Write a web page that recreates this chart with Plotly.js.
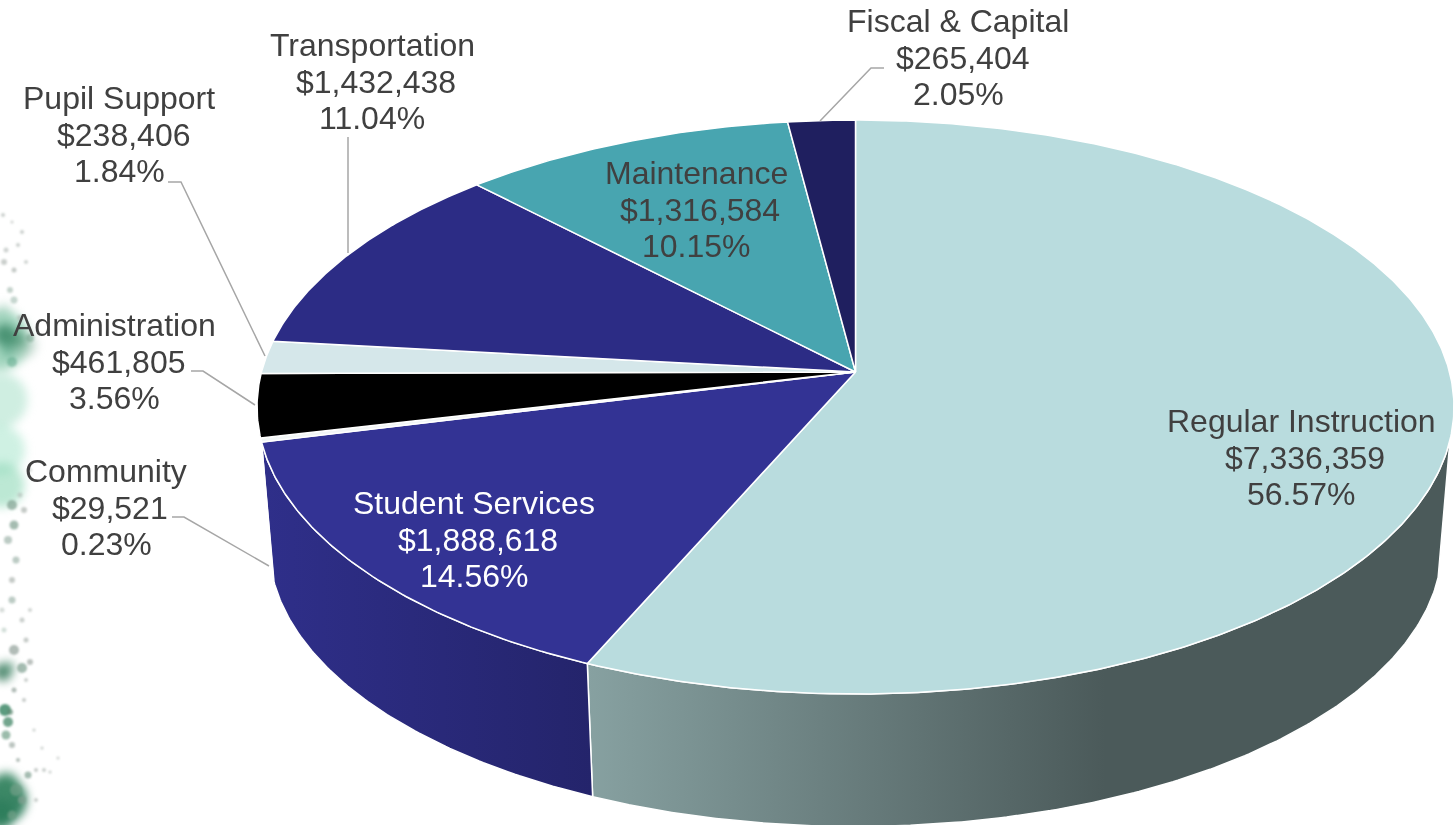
<!DOCTYPE html>
<html>
<head>
<meta charset="utf-8">
<script src="https://cdn.plot.ly/plotly-3.0.1.min.js"></script>
<style>html,body{margin:0;padding:0;background:#fff;overflow:hidden}#chart{width:1455px;height:825px}</style>
</head>
<body>
<div id="chart"></div>
<script>
// ---- data ----
const categories = ['Regular Instruction','Student Services','Community','Administration','Pupil Support','Transportation','Maintenance','Fiscal & Capital'];
const amounts = [7336359,1888618,29521,461805,238406,1432438,1316584,265404];
const topColors = ['#b9dcde','#333394','#f2f6f7','#000000','#d5e7ea','#2c2c85','#48a5b0','#1f1f5f'];
const sideScales = {
  'Regular Instruction': [[0,'#87a1a1'],[0.6,'#4b5a5a'],[1,'#4b5a5a']],
  'Student Services': [[0,'#2f2f8a'],[1,'#24246b']],
  'Community': [[0,'#d8dee0'],[1,'#d8dee0']]
};
const textColors = ['#404040','#ffffff','#404040','#404040','#404040','#404040','#404040','#404040'];
const labelX = [1301,474,106,114,119,372,696,958];
const labelY = [421,503,471,325,98,45,173,21];
const linePitch = 36.7;
const amountLineShift = 4;
const leaders = [
  'M884,68 L871,68 L820,121',
  'M348,137 L348,253',
  'M168,182 L181,182 L265,356',
  'M191,371 L203,371 L255,405',
  'M172,517 L184,517 L269,566'
];
// decorative speckled edge of the slide background
const textureX = [0,0,0,2,24,5,18,8,30,12,4,14,10,20,4,14,6,18,26,3,12,22,12,14,24,8,20,30,16,12,2,4,12,22,30,14,26,5,8,6,12,10,24,3,8,22,30,14,26,18,36,44,50,58,34,42,4,0,6,16,28,22,12,36];
const textureY = [340,400,450,485,345,335,340,350,338,362,310,300,290,318,262,270,250,245,262,215,222,232,505,525,510,540,495,470,560,580,610,630,600,620,610,650,640,710,722,735,745,712,700,672,668,668,662,690,680,760,770,770,772,758,730,748,800,815,785,790,775,800,815,800];
const textureS = [60,55,50,45,26,22,16,13,8,10,14,7,6,6,6,5,5,4,4,4,3,4,10,9,6,8,5,4,7,6,5,5,7,5,4,10,5,12,10,9,6,6,4,18,13,10,6,5,4,4,4,4,3,3,3,3,46,30,26,12,7,8,9,4];
const textureC = ['#7cc4a4','#a8e0c8','#a8e6cc','#8fd8b8','#9fbfb0','#2e7d5c','#3f8a68','#4f9f7f','#70a088','#5aa588','#8fc4ac','#90b0a2','#a0b8ac','#a8b8b0','#a8b0ac','#a0a8a4','#b0b8b4','#a8b0ac','#b0b8b4','#a8b0ac','#b0b8b4','#a8b0ac','#7f9f90','#7f9f90','#a0a8a4','#90a89c','#a8b0ac','#b0b8b4','#90a89c','#a0a8a4','#b0bcb6','#a8c0b4','#90a89c','#a8b0ac','#b0b8b4','#909f98','#a0a8a4','#3f8a68','#4f8f70','#70a088','#909f98','#5f8a74','#a0a8a4','#2f7355','#5f9a80','#7f9f90','#a0a8a4','#909f98','#a8b0ac','#909f98','#a0a8a4','#a8b0ac','#a8b0ac','#b0b8b4','#a8b0ac','#a8b0ac','#2e7d5c','#2e7d5c','#3f8a68','#70a088','#7f9f90','#80a090','#70a088','#a8b0ac'];
const textureO = [0.7,0.55,0.55,0.6,0.45,0.75,0.6,0.6,0.5,0.5,0.4,0.5,0.6,0.6,0.6,0.6,0.6,0.6,0.6,0.6,0.6,0.6,0.7,0.7,0.6,0.6,0.5,0.5,0.6,0.6,0.5,0.5,0.6,0.6,0.6,0.7,0.6,0.85,0.8,0.7,0.6,0.7,0.6,0.85,0.8,0.7,0.7,0.7,0.6,0.7,0.6,0.6,0.6,0.6,0.6,0.6,0.95,0.9,0.8,0.7,0.7,0.7,0.7,0.6];
const washMinSize = 13;

// ---- pie geometry: tilted disc through a perspective mapping ----
const apexX = 855.5, apexY = 372, fx = 594, fy = 282.7, persp = 0.122;
const baseScale = 0.98, baseDrop = 139;
const silhouetteR = 103.5, silhouetteL = 256.9;
function rimPoint(deg, s, drop) {
  const r = deg * Math.PI / 180, u = Math.sin(r), v = Math.cos(r), w = 1 + persp * v;
  return [apexX + s * fx * u / w, apexY + drop - s * fy * v / w];
}
function arc(a, b, s, drop) {
  const n = Math.max(2, Math.ceil(Math.abs(b - a) / 0.5)), pts = [];
  for (let i = 0; i <= n; i++) pts.push(rimPoint(a + (b - a) * i / n, s, drop));
  return pts;
}
const total = amounts.reduce((p, c) => p + c, 0);
let cursor = 0;
const spans = amounts.map(v => { const a = cursor; cursor += v / total * 360; return [a, cursor]; });

const sideTraces = [], topTraces = [];
categories.forEach((name, i) => {
  const [a, b] = spans[i];
  const lo = Math.max(a, silhouetteR), hi = Math.min(b, silhouetteL);
  if (sideScales[name] && hi > lo) {
    const pts = arc(lo, hi, 1, 0).concat(arc(hi, lo, baseScale, baseDrop));
    pts.push(pts[0]);
    sideTraces.push({
      type: 'scatter', mode: 'lines', name: name + ' side', hoverinfo: 'skip', showlegend: false,
      x: pts.map(p => p[0]), y: pts.map(p => p[1]), fill: 'toself',
      fillgradient: { type: 'horizontal', colorscale: sideScales[name] },
      line: { color: '#ffffff', width: 1.5 }
    });
  }
  const pts = [[apexX, apexY]].concat(arc(a, b, 1, 0));
  pts.push([apexX, apexY]);
  topTraces.push({
    type: 'scatter', mode: 'lines', name: name, showlegend: false, hoverinfo: 'name',
    x: pts.map(p => p[0]), y: pts.map(p => p[1]), fill: 'toself', fillcolor: topColors[i],
    line: { color: '#ffffff', width: 1.5 }
  });
});

function textureTrace(keep) {
  const idx = textureS.map((s, i) => i).filter(i => keep(textureS[i]));
  return {
    type: 'scatter', mode: 'markers', hoverinfo: 'skip', showlegend: false,
    x: idx.map(i => textureX[i]), y: idx.map(i => textureY[i]),
    marker: { size: idx.map(i => textureS[i]), color: idx.map(i => textureC[i]),
              opacity: idx.map(i => textureO[i]), line: { width: 0 } }
  };
}
const wash = textureTrace(s => s >= washMinSize);
const speckle = textureTrace(s => s < washMinSize);

const annotations = [];
categories.forEach((name, i) => {
  const lines = [name, '$' + amounts[i].toLocaleString('en-US'), (amounts[i] / total * 100).toFixed(2) + '%'];
  lines.forEach((t, k) => annotations.push({
    xref: 'x', yref: 'y', x: labelX[i] + (k === 1 ? amountLineShift : 0), y: labelY[i] + k * linePitch, text: t, showarrow: false,
    xanchor: 'center', yanchor: 'middle',
    font: { family: '"Liberation Sans", Arial, sans-serif', size: 32, color: textColors[i] }
  }));
});

const shapes = leaders.map(p => ({
  type: 'path', xref: 'x', yref: 'y', path: p, line: { color: '#a6a6a6', width: 1.5 }, layer: 'above'
}));

Plotly.newPlot('chart', [wash, speckle].concat(sideTraces, topTraces), {
  width: 1455, height: 825, margin: { l: 0, r: 0, t: 0, b: 0 },
  paper_bgcolor: '#ffffff', plot_bgcolor: '#ffffff', showlegend: false,
  xaxis: { range: [0, 1455], visible: false, fixedrange: true },
  yaxis: { range: [825, 0], visible: false, fixedrange: true },
  annotations, shapes
}, { displayModeBar: false, staticPlot: true }).then(() => {
  const groups = document.querySelectorAll('#chart .scatterlayer .trace');
  if (groups[0]) groups[0].style.filter = 'blur(5px)';
  if (groups[1]) groups[1].style.filter = 'blur(0.8px)';
});
</script>
</body>
</html>
